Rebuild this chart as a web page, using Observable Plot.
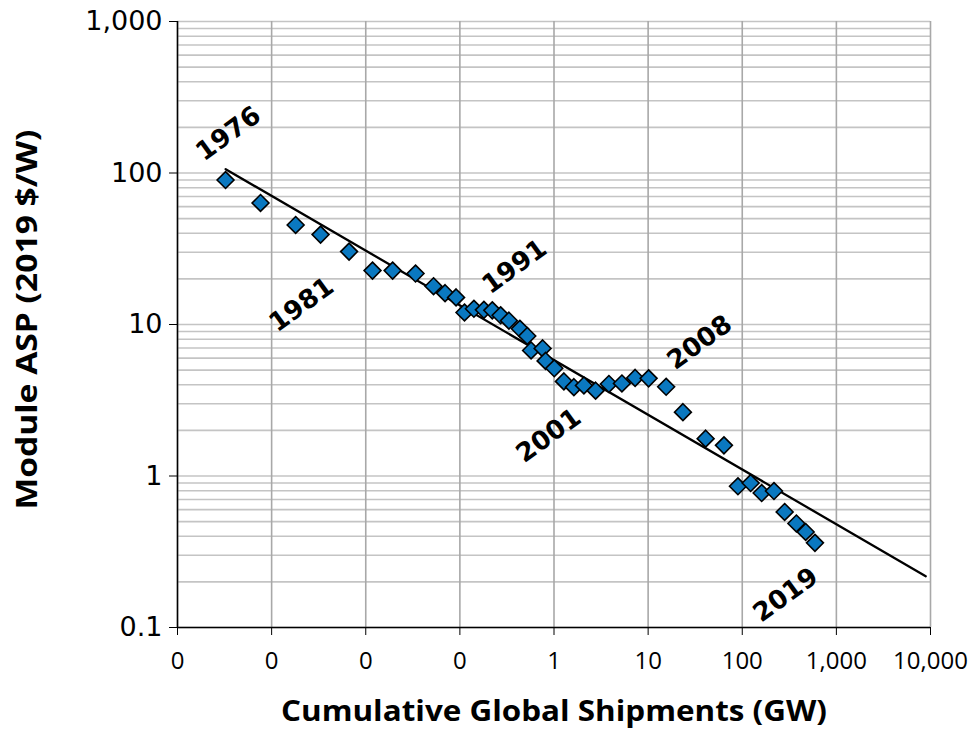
<!DOCTYPE html>
<html>
<head>
<meta charset="utf-8">
<script src="https://cdn.jsdelivr.net/npm/d3@7"></script>
<script src="https://cdn.jsdelivr.net/npm/@observablehq/plot@0.6"></script>
<style>
  html, body { margin: 0; padding: 0; background: #ffffff; }
  #chart { width: 969px; height: 731px; }
</style>
</head>
<body>
<div id="chart"></div>
<script>
// ---- Data ----
const shipments = [0.000324, 0.000762, 0.00180, 0.00331, 0.00665, 0.0118, 0.0193, 0.0338, 0.0525, 0.0696,
  0.0911, 0.112, 0.141, 0.180, 0.221, 0.271, 0.332, 0.434, 0.520, 0.571,
  0.757, 0.814, 1.007, 1.274, 1.627, 2.079, 2.767, 3.831, 5.267, 7.274,
  10.12, 15.54, 23.43, 40.84, 63.9, 90.0, 122.8, 160.8, 217.3, 282.2,
  375.8, 471.9, 592.3];
const moduleASP = [89.9, 63.4, 45.4, 39.2, 30.3, 22.7, 22.7, 21.7, 17.9, 16.1,
  15.1, 12.0, 12.7, 12.5, 12.4, 11.5, 10.6, 9.37, 8.40, 6.74,
  6.95, 5.75, 5.14, 4.21, 3.86, 3.96, 3.66, 4.05, 4.08, 4.44,
  4.41, 3.88, 2.64, 1.764, 1.594, 0.855, 0.899, 0.772, 0.796, 0.579,
  0.486, 0.427, 0.362];

const trendX = [0.000325, 8900];
const trendY = [106, 0.218];

const labelYears = ["1976", "1981", "1991", "2001", "2008", "2019"];
const labelX = [0.000348, 0.00208, 0.381, 0.877, 35.3, 289];
const labelY = [181.6, 13.5, 24.1, 1.85, 7.61, 0.164];

const xTickValues = [1e-4, 1e-3, 1e-2, 1e-1, 1, 10, 100, 1000, 10000];
const xTickLabels = ["0", "0", "0", "0", "1", "10", "100", "1,000", "10,000"];
const yTickValues = [0.1, 1, 10, 100, 1000];
const yTickLabels = ["0.1", "1", "10", "100", "1,000"];

const xTitle = "Cumulative Global Shipments (GW)";
const yTitle = "Module ASP (2019 $/W)";

// ---- Tables built from the arrays ----
const points = shipments.map((x, i) => ({x, y: moduleASP[i]}));
const trend = trendX.map((x, i) => ({x, y: trendY[i]}));
const labels = labelYears.map((t, i) => ({t, x: labelX[i], y: labelY[i]}));

const calibriLike = "'Open Sans', 'Liberation Sans', sans-serif";
const verdanaLike = "'DejaVu Sans', Verdana, sans-serif";

const chart = Plot.plot({
  width: 969,
  height: 731,
  marginLeft: 177,
  marginRight: 39,
  marginTop: 21,
  marginBottom: 104,
  style: {background: "#ffffff", color: "#000000"},
  x: {type: "log", domain: [1e-4, 1e4]},
  y: {type: "log", domain: [0.1, 1000]},
  marks: [
    // horizontal grid (major + minor)
    Plot.gridY({ticks: 60, stroke: "#c4c4c4", strokeOpacity: 1, strokeWidth: 1.6}),
    // vertical grid (decades)
    Plot.gridX({ticks: xTickValues, stroke: "#a8a8a8", strokeOpacity: 1, strokeWidth: 1.6}),
    // axis lines
    Plot.ruleX([1e-4], {stroke: "#000", strokeWidth: 1.5}),
    Plot.ruleY([0.1], {stroke: "#000", strokeWidth: 1.5}),
    Plot.axisY({
      ticks: yTickValues,
      tickFormat: d => yTickLabels[yTickValues.indexOf(d)],
      tickSize: 8, tickPadding: 7, label: null,
      fontSize: 27, fontFamily: verdanaLike, fill: "#000"
    }),
    Plot.axisX({
      ticks: xTickValues,
      tickFormat: d => xTickLabels[xTickValues.indexOf(d)],
      tickSize: 8, tickPadding: 16, label: null,
      fontSize: 24, fontFamily: calibriLike, fill: "#000"
    }),
    // trend line
    Plot.line(trend, {x: "x", y: "y", stroke: "#000", strokeWidth: 2.3}),
    // data points
    Plot.dot(points, {x: "x", y: "y", symbol: "diamond2", r: 7.6, fill: "#0a78c0", stroke: "#000", strokeWidth: 1.6}),
    // year labels
    Plot.text(labels, {x: "x", y: "y", text: "t", rotate: -36, fontSize: 26, fontWeight: "bold",
      fontFamily: verdanaLike, fill: "#000", textAnchor: "middle", lineAnchor: "middle"}),
    // axis titles
    Plot.text([xTitle], {frameAnchor: "bottom", dy: 85, text: d => d, fontSize: 28, fontWeight: "bold",
      fontFamily: calibriLike, fill: "#000", textAnchor: "middle", lineAnchor: "middle"}),
    Plot.text([yTitle], {frameAnchor: "left", dx: -149, dy: -5, rotate: -90, text: d => d, fontSize: 28, fontWeight: "bold",
      fontFamily: calibriLike, fill: "#000", textAnchor: "middle", lineAnchor: "middle"})
  ]
});

// fit the axis titles to the reference widths
chart.querySelectorAll("text").forEach(t => {
  if (t.textContent === xTitle) { t.setAttribute("textLength", 546); t.setAttribute("lengthAdjust", "spacingAndGlyphs"); }
  if (t.textContent === yTitle) { t.setAttribute("textLength", 380); t.setAttribute("lengthAdjust", "spacingAndGlyphs"); }
});

document.getElementById("chart").appendChild(chart);
</script>
</body>
</html>
